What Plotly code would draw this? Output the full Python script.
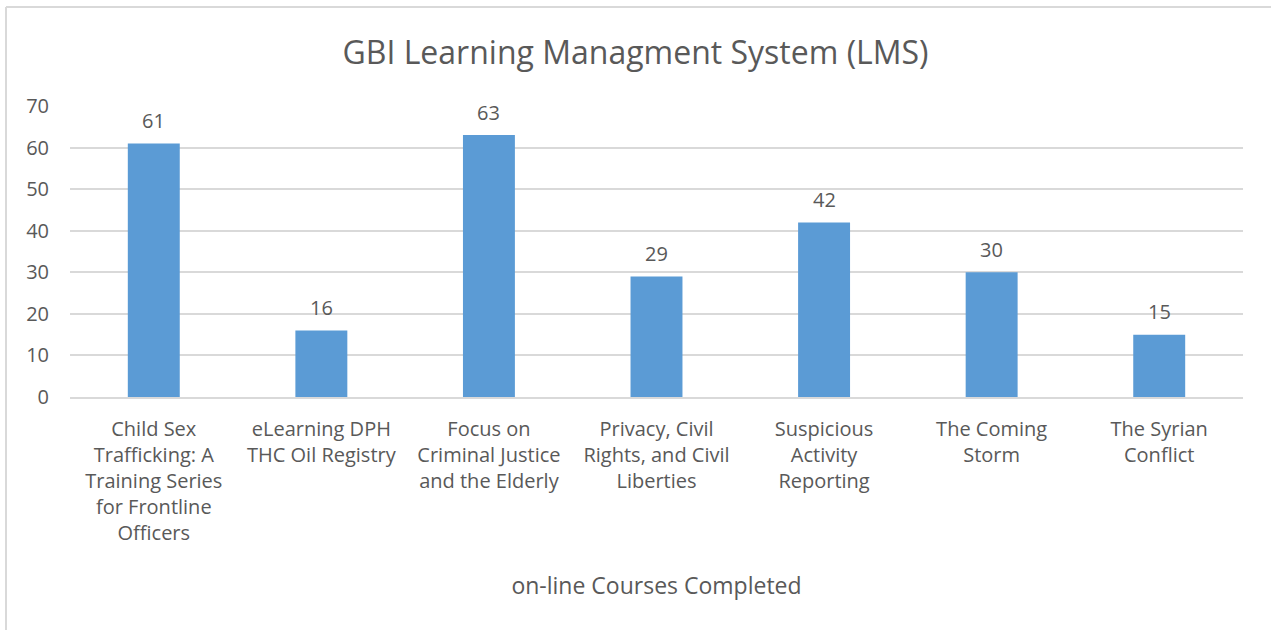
import plotly.graph_objects as go

categories = [
    "Child Sex<br>Trafficking: A<br>Training Series<br>for Frontline<br>Officers",
    "eLearning DPH<br>THC Oil Registry",
    "Focus on<br>Criminal Justice<br>and the Elderly",
    "Privacy, Civil<br>Rights, and Civil<br>Liberties",
    "Suspicious<br>Activity<br>Reporting",
    "The Coming<br>Storm",
    "The Syrian<br>Conflict",
]
values = [61, 16, 63, 29, 42, 30, 15]
y_ticks = [0, 10, 20, 30, 40, 50, 60, 70]

W, H = 1271, 630
L, R, T, B = 70, 28, 106, 233
FONT = "Open Sans"
GRAY = "#595959"

fig = go.Figure()
fig.add_trace(go.Bar(
    x=list(range(len(categories))), y=values,
    marker=dict(color="#5B9BD5", line=dict(width=0)),
    width=0.31, hoverinfo="skip",
))

for i, v in enumerate(values):
    fig.add_annotation(x=i, y=v, text=str(v), showarrow=False, yshift=23,
                       font=dict(family=FONT, size=20, color=GRAY))

pw = W - L - R
ph = H - T - B
shapes = [
    dict(type="line", xref="paper", yref="paper",
         x0=(6 - L) / pw, x1=(W + 5 - L) / pw,
         y0=(H - B - 7) / ph, y1=(H - B - 7) / ph,
         line=dict(color="#D9D9D9", width=2)),
    dict(type="line", xref="paper", yref="paper",
         x0=(6 - L) / pw, x1=(6 - L) / pw,
         y0=(H - B - 7) / ph, y1=(H - B - H - 5) / ph,
         line=dict(color="#D9D9D9", width=2)),
]

fig.update_layout(
    width=W, height=H,
    margin=dict(l=L, r=R, t=T, b=B, pad=0),
    paper_bgcolor="white", plot_bgcolor="white",
    showlegend=False,
    title=dict(text="GBI Learning Managment System (LMS)", x=0.5, xanchor="center",
               y=1 - 53 / H, yanchor="middle",
               font=dict(family=FONT, size=32, color=GRAY)),
    font=dict(family=FONT, size=20, color=GRAY),
    xaxis=dict(
        tickmode="array", tickvals=list(range(len(categories))), ticktext=categories,
        range=[-0.5, len(categories) - 0.5],
        showgrid=False, zeroline=False,
        showline=True, linecolor="#D9D9D9", linewidth=1.5,
        ticks="outside", ticklen=13, tickcolor="rgba(0,0,0,0)",
        tickfont=dict(family=FONT, size=20, color=GRAY),
        title=dict(text="on-line Courses Completed", standoff=33,
                   font=dict(family=FONT, size=23, color=GRAY)),
        fixedrange=True,
    ),
    yaxis=dict(
        range=[0, 70], tickmode="array", tickvals=y_ticks,
        showgrid=True, gridcolor="#D9D9D9", gridwidth=1.5,
        zeroline=False, showline=False,
        ticks="outside", ticklen=16, tickcolor="rgba(0,0,0,0)",
        tickfont=dict(family=FONT, size=20, color=GRAY),
        fixedrange=True,
    ),
    shapes=shapes,
)

fig.write_html("out.html", config={"displayModeBar": False},
               post_script="document.body.style.margin='0';document.body.style.padding='0';")
